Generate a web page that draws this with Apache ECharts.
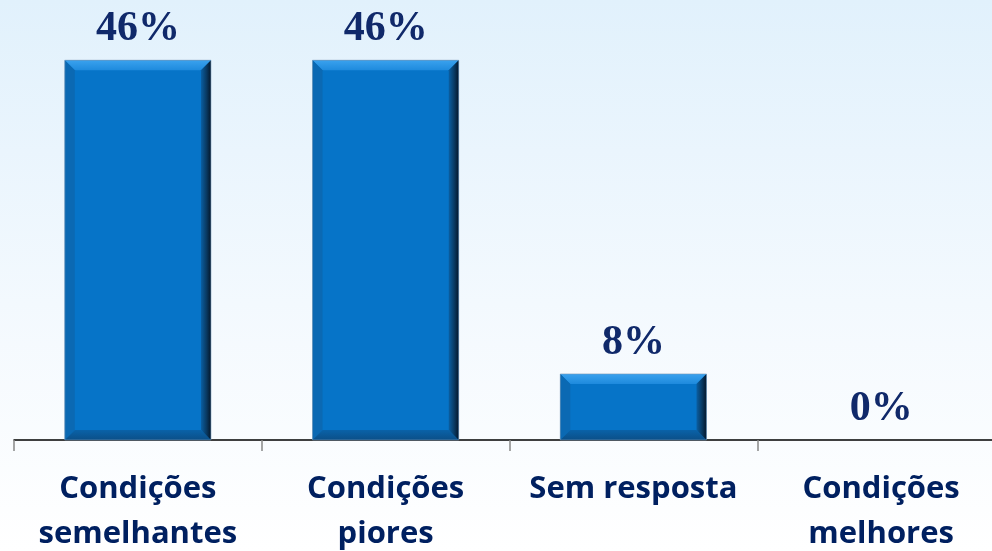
<!DOCTYPE html>
<html>
<head>
<meta charset="utf-8">
<script src="https://cdn.jsdelivr.net/npm/echarts@6/dist/echarts.min.js"></script>
<style>
html,body{margin:0;padding:0;}
#c{width:992px;height:551px;background:linear-gradient(to bottom,#E1F1FC 0%,#F3F9FE 55%,#FFFFFF 100%);}
</style>
</head>
<body>
<div id="c"></div>
<script>
const categories = ['Condições\nsemelhantes', 'Condições\npiores', 'Sem resposta', 'Condições\nmelhores'];
const values = [46, 46, 8, 0];
const labelSuffix = '%';

const chart = echarts.init(document.getElementById('c'), null, {renderer: 'canvas'});
const BAR_FRAC = 0.59;
const BEVEL = 10;

function bevel(params, api) {
  const idx = api.value(0);
  const v = api.value(1);
  if (!(v > 0)) return null;
  const top = api.coord([idx, v]);
  const base = api.coord([idx, 0]);
  const bw = api.size([1, 0])[0] * BAR_FRAC;
  const x0 = top[0] - bw / 2, x1 = top[0] + bw / 2, y0 = top[1], y1 = base[1];
  const b = Math.min(BEVEL, (y1 - y0) / 2);
  return {
    type: 'group',
    silent: true,
    children: [
      {type: 'polygon', shape: {points: [[x0, y0], [x1, y0], [x1 - b, y0 + b], [x0 + b, y0 + b]]},
       style: {fill: new echarts.graphic.LinearGradient(0, 0, 0, 1, [{offset: 0, color: '#3AA2EE'}, {offset: 1, color: '#1E8ADD'}])}},
      {type: 'polygon', shape: {points: [[x0, y0], [x0 + b, y0 + b], [x0 + b, y1 - b], [x0, y1]]},
       style: {fill: '#0B69B3'}},
      {type: 'polygon', shape: {points: [[x0, y1], [x1, y1], [x1 - b, y1 - b], [x0 + b, y1 - b]]},
       style: {fill: new echarts.graphic.LinearGradient(0, 0, 0, 1, [{offset: 0, color: '#0A62A8'}, {offset: 1, color: '#0B4F88'}])}},
      {type: 'polygon', shape: {points: [[x1, y0], [x1, y1], [x1 - b, y1 - b], [x1 - b, y0 + b]]},
       style: {fill: new echarts.graphic.LinearGradient(0, 0, 1, 0, [{offset: 0, color: '#0A5FA3'}, {offset: 0.55, color: '#093A63'}, {offset: 1, color: '#04162A'}])}},
      {type: 'rect', shape: {x: x0, y: y0, width: x1 - x0, height: y1 - y0},
       style: {fill: 'none', stroke: 'rgba(120,150,180,0.6)', lineWidth: 1}}
    ]
  };
}

chart.setOption({
  animation: false,
  backgroundColor: 'transparent',
  grid: {left: 14, width: 991, top: 0, bottom: 111, containLabel: false, outerBoundsMode: 'none'},
  xAxis: {
    type: 'category',
    data: categories,
    axisLine: {lineStyle: {color: '#000', width: 1.5}},
    axisTick: {show: true, length: 11, lineStyle: {color: '#888', width: 1.5}},
    axisLabel: {
      interval: 0,
      margin: 27,
      color: '#002060',
      fontFamily: 'Open Sans',
      fontWeight: 'bold',
      fontSize: 31,
      lineHeight: 45
    }
  },
  yAxis: {type: 'value', min: 0, max: 53.3, show: false},
  series: [
    {
      type: 'bar',
      data: values,
      barWidth: (BAR_FRAC * 100) + '%',
      itemStyle: {color: '#0674C8'},
      label: {
        show: true,
        position: 'top',
        distance: 10,
        formatter: p => p.value + labelSuffix,
        fontFamily: 'Liberation Serif',
        fontWeight: 'bold',
        fontSize: 42,
        color: '#10296A'
      },
      z: 2
    },
    {
      type: 'custom',
      renderItem: bevel,
      data: values.map((v, i) => [i, v]),
      encode: {x: 0, y: 1},
      z: 3
    }
  ]
});
</script>
</body>
</html>
